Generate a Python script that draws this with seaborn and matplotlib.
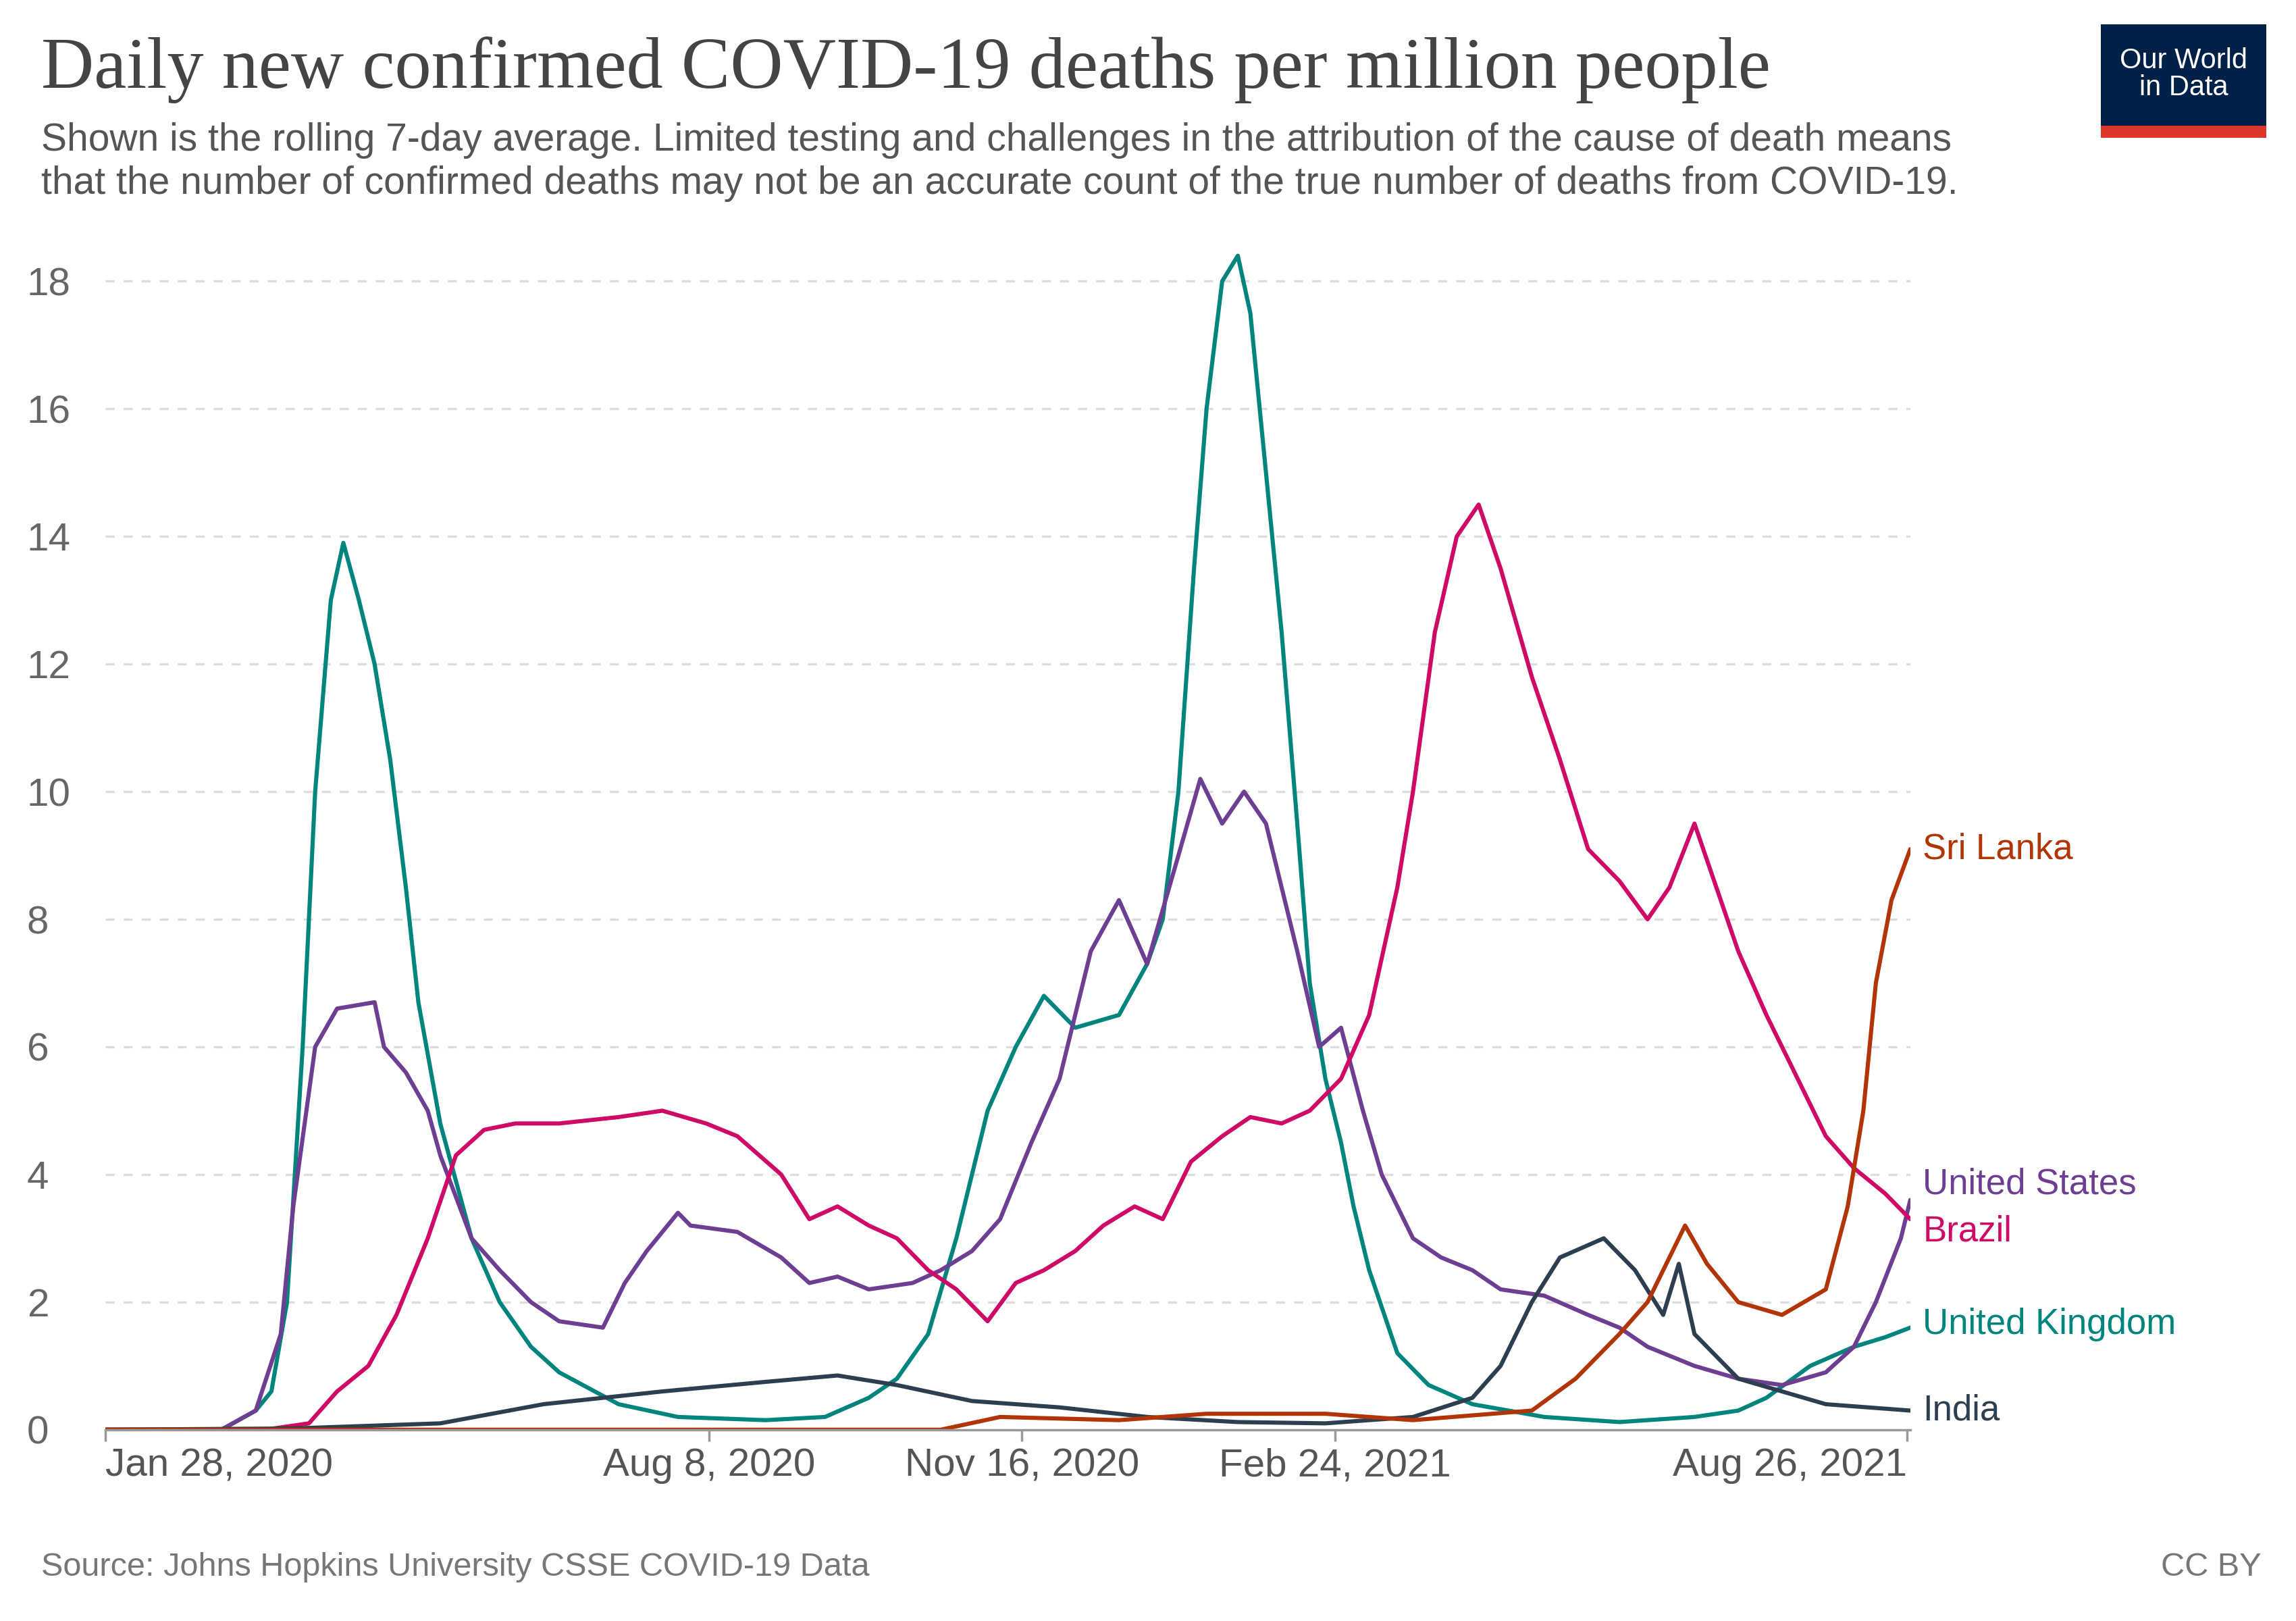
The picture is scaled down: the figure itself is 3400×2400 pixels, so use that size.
import matplotlib
matplotlib.use("Agg")
import matplotlib.pyplot as plt
import matplotlib.dates as mdates
import seaborn as sns
import pandas as pd
import numpy as np

sns.set_theme(style="white")
plt.rcParams['font.family'] = ['Liberation Sans', 'DejaVu Sans']

start = pd.Timestamp("2020-01-28")

uk_days = [0, 37, 48, 53, 58, 63, 67, 72, 76, 81, 86, 91, 96, 100, 107, 117, 126, 136, 145, 164, 183, 211, 230, 244, 253, 263, 272, 282, 291, 300, 310, 324, 333, 338, 343, 348, 352, 357, 362, 366, 371, 376, 381, 385, 390, 395, 399, 404, 413, 423, 437, 460, 484, 508, 522, 531, 545, 559, 569, 577]
uk_vals = [0, 0, 0.3, 0.6, 2, 6, 10, 13, 13.9, 13, 12, 10.5, 8.5, 6.7, 4.8, 3, 2, 1.3, 0.9, 0.4, 0.2, 0.15, 0.2, 0.5, 0.8, 1.5, 3, 5, 6, 6.8, 6.3, 6.5, 7.3, 8, 10, 13.5, 16, 18, 18.4, 17.5, 15, 12.5, 9.5, 7, 5.5, 4.5, 3.5, 2.5, 1.2, 0.7, 0.4, 0.2, 0.12, 0.2, 0.3, 0.5, 1, 1.3, 1.45, 1.6]

us_days = [0, 37, 48, 56, 60, 67, 74, 86, 89, 96, 103, 107, 117, 126, 136, 145, 159, 166, 173, 183, 187, 202, 216, 225, 234, 244, 258, 267, 277, 286, 296, 305, 315, 324, 333, 343, 350, 357, 364, 371, 381, 388, 395, 402, 408, 418, 427, 437, 446, 460, 474, 484, 493, 508, 522, 536, 550, 559, 566, 574, 577]
us_vals = [0, 0, 0.3, 1.5, 3.5, 6, 6.6, 6.7, 6, 5.6, 5, 4.3, 3, 2.5, 2, 1.7, 1.6, 2.3, 2.8, 3.4, 3.2, 3.1, 2.7, 2.3, 2.4, 2.2, 2.3, 2.5, 2.8, 3.3, 4.5, 5.5, 7.5, 8.3, 7.3, 9, 10.2, 9.5, 10, 9.5, 7.5, 6, 6.3, 5, 4, 3, 2.7, 2.5, 2.2, 2.1, 1.8, 1.6, 1.3, 1, 0.8, 0.7, 0.9, 1.3, 2, 3, 3.6]

br_days = [0, 51, 65, 74, 84, 93, 103, 112, 121, 131, 145, 164, 178, 192, 202, 216, 225, 234, 244, 253, 263, 272, 282, 291, 300, 310, 319, 329, 338, 347, 357, 366, 376, 385, 395, 404, 413, 418, 425, 432, 439, 446, 456, 465, 474, 484, 493, 500, 508, 515, 522, 531, 541, 550, 559, 569, 577]
br_vals = [0, 0, 0.1, 0.6, 1, 1.8, 3, 4.3, 4.7, 4.8, 4.8, 4.9, 5, 4.8, 4.6, 4, 3.3, 3.5, 3.2, 3, 2.5, 2.2, 1.7, 2.3, 2.5, 2.8, 3.2, 3.5, 3.3, 4.2, 4.6, 4.9, 4.8, 5, 5.5, 6.5, 8.5, 10, 12.5, 14, 14.5, 13.5, 11.8, 10.5, 9.1, 8.6, 8, 8.5, 9.5, 8.5, 7.5, 6.5, 5.5, 4.6, 4.1, 3.7, 3.3]

in_days = [0, 60, 107, 140, 178, 211, 234, 253, 277, 305, 333, 362, 390, 418, 437, 446, 456, 465, 479, 489, 498, 503, 508, 522, 536, 550, 577]
in_vals = [0, 0.02, 0.1, 0.4, 0.6, 0.75, 0.85, 0.7, 0.45, 0.35, 0.2, 0.12, 0.1, 0.2, 0.5, 1, 2, 2.7, 3, 2.5, 1.8, 2.6, 1.5, 0.8, 0.6, 0.4, 0.3]

sl_days = [0, 267, 286, 324, 352, 390, 418, 456, 470, 484, 493, 505, 512, 522, 536, 550, 557, 562, 566, 571, 577]
sl_vals = [0, 0, 0.2, 0.15, 0.25, 0.25, 0.15, 0.3, 0.8, 1.5, 2, 3.2, 2.6, 2, 1.8, 2.2, 3.5, 5, 7, 8.3, 9.1]

series = [
    ("United Kingdom", uk_days, uk_vals, "#00847e"),
    ("United States", us_days, us_vals, "#6d3e91"),
    ("Brazil", br_days, br_vals, "#cf0a66"),
    ("India", in_days, in_vals, "#2d3e50"),
    ("Sri Lanka", sl_days, sl_vals, "#b13507"),
]
labels = {"Sri Lanka": 9.1, "United States": 3.85, "Brazil": 3.1, "United Kingdom": 1.65, "India": 0.3}

fig = plt.figure(figsize=(17, 12), dpi=200)
ax = fig.add_axes([0.046, 0.118, 0.786, 0.727])
frames = []
for name, d, v, c in series:
    df = pd.DataFrame({"date": start + pd.to_timedelta(d, unit="D"), "value": v, "country": name})
    frames.append(df)
data = pd.concat(frames)
palette = {n: c for n, _, _, c in series}
sns.lineplot(data=data, x="date", y="value", hue="country", palette=palette, ax=ax, legend=False, linewidth=2.2)

end = start + pd.Timedelta(days=577)
ax.set_xlim(start, end)
ax.set_ylim(0, 18.47)
ax.set_yticks([0, 2, 4, 6, 8, 10, 12, 14, 16, 18])
ax.yaxis.grid(True, linestyle=(0, (4, 4)), color="#dddddd", linewidth=1.2)
ticks = [pd.Timestamp(x) for x in ["2020-01-28", "2020-08-08", "2020-11-16", "2021-02-24", "2021-08-26"]]
ax.set_xticks(ticks)
ax.set_xticklabels(["Jan 28, 2020", "Aug 8, 2020", "Nov 16, 2020", "Feb 24, 2021", "Aug 26, 2021"])
ax.set_xlabel(""); ax.set_ylabel("")
for s in ["top", "right", "left"]:
    ax.spines[s].set_visible(False)
ax.spines["bottom"].set_color("#999999")
ax.tick_params(axis="x", length=6, color="#999999", labelsize=21, labelcolor="#555555", direction="out", bottom=True)
ax.tick_params(axis="y", length=0, labelsize=21, labelcolor="#666666")
xl = ax.get_xticklabels()
xl[0].set_horizontalalignment("left")
xl[-1].set_horizontalalignment("right")
for lbl in ax.get_yticklabels():
    lbl.set_horizontalalignment("left")
ax.tick_params(axis="y", pad=42)

for name, d, v, c in series:
    ax.text(end + pd.Timedelta(days=4), labels[name], name, color=c, fontsize=19, va="center", ha="left")

fig.text(0.018, 0.957, "Daily new confirmed COVID-19 deaths per million people", fontsize=39,
         family=["Liberation Serif", "DejaVu Serif"], color="#444444", va="center")
fig.text(0.018, 0.9, "Shown is the rolling 7-day average. Limited testing and challenges in the attribution of the cause of death means\nthat the number of confirmed deaths may not be an accurate count of the true number of deaths from COVID-19.",
         fontsize=20.5, color="#555555", va="center", linespacing=1.25)
fig.text(0.018, 0.028, "Source: Johns Hopkins University CSSE COVID-19 Data", fontsize=17.5, color="#777777")
fig.text(0.985, 0.028, "CC BY", fontsize=17.5, color="#777777", ha="right")

logo = fig.add_axes([0.915, 0.915, 0.072, 0.07])
logo.set_xlim(0, 1); logo.set_ylim(0, 1)
logo.axis("off")
logo.add_patch(plt.Rectangle((0, 0.1), 1, 0.9, color="#002147"))
logo.add_patch(plt.Rectangle((0, 0), 1, 0.1, color="#dc3727"))
logo.text(0.5, 0.56, "Our World\nin Data", color="white", ha="center", va="center", fontsize=15, linespacing=1.0)

fig.savefig("out.png", dpi=200)
